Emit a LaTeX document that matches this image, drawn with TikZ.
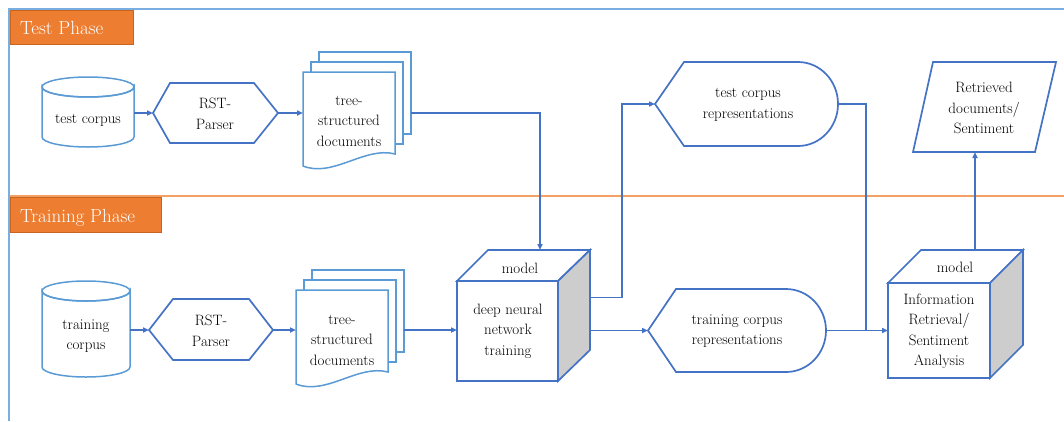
\documentclass[tikz,border=0pt]{standalone}
\usetikzlibrary{arrows.meta,calc}
\definecolor{bdark}{HTML}{4472C4}
\definecolor{blight}{HTML}{5B9BD5}
\definecolor{frameblue}{HTML}{7AAEE0}
\definecolor{orfill}{HTML}{ED7D31}
\definecolor{orborder}{HTML}{C7641F}
\definecolor{orline}{HTML}{F4A064}
\definecolor{sidegray}{HTML}{CDCDCD}
\newcommand{\docstack}[2]{%
  \draw[shpl] (#1+16,#2-20) rectangle ++(92,82);
  \draw[shpl] (#1+8,#2-10) rectangle ++(92,82);
  \draw[shpl] (#1,#2) -- (#1+92,#2) -- (#1+92,#2+82) .. controls (#1+62,#2+74) and (#1+30,#2+106) .. (#1,#2+94) -- cycle;
}
\begin{document}
\begin{tikzpicture}[x=1pt,y=-1pt,
  shp/.style={draw=bdark,line width=1.7pt,fill=white},
  shpl/.style={draw=blight,line width=1.5pt,fill=white},
  box/.style={draw=none,inner sep=0pt,outer sep=0pt},
  lbl/.style={font=\fontsize{15}{20.5}\selectfont,align=center,inner sep=0pt,text=black},
  conn/.style={draw=bdark,line width=1.8pt},
  arr/.style={conn,-{Triangle[length=6pt,width=5pt]}},
  phasebox/.style={fill=orfill,draw=orborder,line width=0.8pt,anchor=north west,inner sep=0pt},
  phasetext/.style={text=white,font=\fontsize{19}{24}\selectfont,inner sep=0pt,anchor=base west}
]
\useasboundingbox (0,0) rectangle (1064,421);
% frame
\draw[frameblue, line width=1.5pt] (1064,9) -- (9,9) -- (9,421);
\draw[orline, line width=1.8pt] (10,196) -- (1064,196);
\node[phasebox, minimum width=123pt, minimum height=34pt] (testph) at (10,10) {};
\node[phasetext] (testphtxt) at (20,34) {Test Phase};
\node[phasebox, minimum width=151pt, minimum height=35pt] (trainph) at (10,197) {};
\node[phasetext] (trainphtxt) at (20,222) {Training Phase};

% ---------- shapes, test row
\path[shpl] (42,87) -- (42,137) arc[start angle=180,end angle=0,x radius=46,y radius=10] -- (134,87) arc[start angle=0,end angle=180,x radius=46,y radius=10] -- cycle;
\draw[shpl,fill=none] (88,87) ellipse[x radius=46,y radius=10];
\draw[shp] (153,113) -- (170,83) -- (254,83) -- (278,113) -- (254,143) -- (170,143) -- cycle;
\docstack{303}{72}
\draw[shp] (655,104) -- (684,62) -- (798,62) arc[start angle=-90,end angle=90,x radius=40,y radius=42] -- (684,146) -- cycle;
\draw[shp] (933,62) -- (1056,62) -- (1035,152) -- (913,152) -- cycle;

% ---------- shapes, training row
\path[shpl] (42,291) -- (42,367) arc[start angle=180,end angle=0,x radius=44,y radius=10] -- (130,291) arc[start angle=0,end angle=180,x radius=44,y radius=10] -- cycle;
\draw[shpl,fill=none] (86,291) ellipse[x radius=44,y radius=10];
\draw[shp] (149,330) -- (173,299) -- (249,299) -- (273,330) -- (249,360) -- (173,360) -- cycle;
\docstack{296}{290}
\draw[shp] (457,281) rectangle (558,381);
\draw[shp] (457,281) -- (488,250) -- (590,250) -- (558,281) -- cycle;
\draw[shp,fill=sidegray] (558,281) -- (590,250) -- (590,350) -- (558,381) -- cycle;
\draw[shp] (648,330.5) -- (676,289) -- (786,289) arc[start angle=-90,end angle=90,x radius=40,y radius=41.5] -- (676,372) -- cycle;
\draw[shp] (888,283) rectangle (990,378);
\draw[shp] (888,283) -- (921,250) -- (1023,250) -- (990,283) -- cycle;
\draw[shp,fill=sidegray] (990,283) -- (1023,250) -- (1023,345) -- (990,378) -- cycle;

% ---------- named nodes
\node[box,minimum width=92pt,minimum height=70pt] (tcyl) at (88,113) {};
\node[lbl] (tcyltxt) at (88,120) {test corpus};
\node[box,minimum width=125pt,minimum height=60pt] (trst) at (215.5,113) {};
\node[lbl] (trsttxt) at (215,114) {RST-\\Parser};
\node[box,minimum width=108pt,minimum height=120pt] (tdoc) at (357,113) {};
\node[lbl] (tdoctxt) at (349,121) {tree-\\structured\\documents};
\node[box,minimum width=183pt,minimum height=84pt] (tcrep) at (746.5,104) {};
\node[lbl] (tcreptxt) at (748,105) {test corpus\\representations};
\node[box,minimum width=143pt,minimum height=90pt] (ret) at (984.5,107) {};
\node[lbl] (rettxt) at (984,108) {Retrieved\\documents/\\Sentiment};

\node[box,minimum width=88pt,minimum height=96pt] (rcyl) at (86,330) {};
\node[lbl] (rcyltxt) at (86,336) {training\\corpus};
\node[box,minimum width=124pt,minimum height=61pt] (rrst) at (211,330) {};
\node[lbl] (rrsttxt) at (211,331) {RST-\\Parser};
\node[box,minimum width=108pt,minimum height=120pt] (rdoc) at (350,330) {};
\node[lbl] (rdoctxt) at (342,340) {tree-\\structured\\documents};
\node[box,minimum width=133pt,minimum height=131pt] (dnn) at (523.5,315.5) {};
\node[lbl] (dnnm) at (520,268) {model};
\node[lbl] (dnntxt) at (508,331) {deep neural\\network\\training};
\node[box,minimum width=178pt,minimum height=83pt] (rrep) at (737,330.5) {};
\node[lbl] (rreptxt) at (737,331) {training corpus\\representations};
\node[box,minimum width=135pt,minimum height=128pt] (ir) at (955.5,314) {};
\node[lbl] (irm) at (955,267) {model};
\node[lbl] (irtxt) at (939,331) {Information\\Retrieval/\\Sentiment\\Analysis};

% ---------- connectors
\coordinate (dnnin) at ($(dnn.north)+(16.5,0)$);
\coordinate (dnnup) at ($(dnn.east)+(0,-18)$);
\coordinate (join) at (866,330.5);
\coordinate (irtop) at ($(ir.north)+(19.5,0)$);
\draw[arr] (tcyl.east) -- (trst.west);
\draw[arr] (trst.east) -- (tdoc.west);
\draw[arr] (tdoc.east) -| (dnnin);
\draw[arr] (rcyl.east) -- (rrst.west);
\draw[arr] (rrst.east) -- (rdoc.west);
\draw[arr] (rdoc.east) -- (rdoc.east -| dnn.west);
\draw[arr] (dnnup) -- ++(32,0) |- (tcrep.west);
\draw[arr] (dnn.east |- rrep.west) -- (rrep.west);
\draw[conn] (tcrep.east) -| (join);
\draw[arr] (rrep.east) -- (rrep.east -| ir.west);
\draw[arr] (irtop) -- (irtop |- ret.south);
\end{tikzpicture}
\end{document}
